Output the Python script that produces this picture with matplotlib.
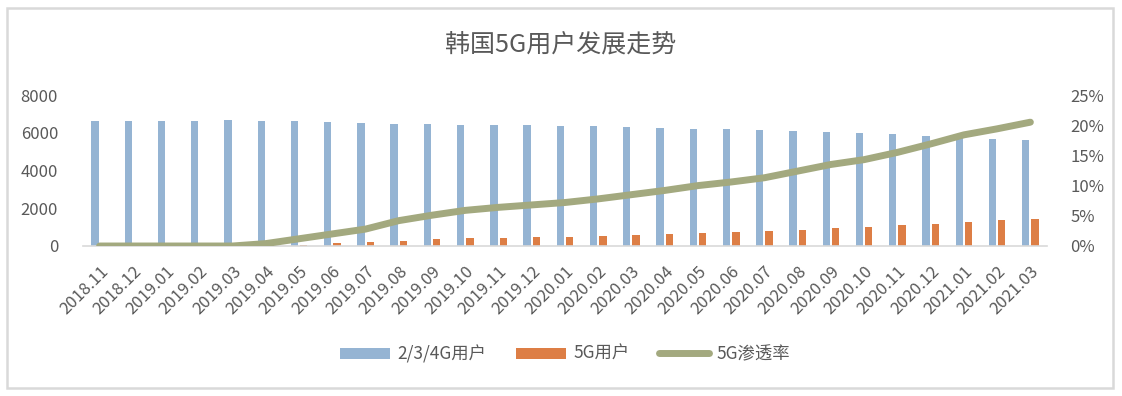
import numpy as np
import matplotlib.pyplot as plt
from matplotlib.lines import Line2D
from matplotlib.patches import Patch, Rectangle

plt.rcParams['font.family'] = ['Noto Sans CJK SC', 'DejaVu Sans']

months = ['2018.11', '2018.12', '2019.01', '2019.02', '2019.03', '2019.04', '2019.05',
          '2019.06', '2019.07', '2019.08', '2019.09', '2019.10', '2019.11', '2019.12',
          '2020.01', '2020.02', '2020.03', '2020.04', '2020.05', '2020.06', '2020.07',
          '2020.08', '2020.09', '2020.10', '2020.11', '2020.12', '2021.01', '2021.02',
          '2021.03']
# 2/3/4G用户 (万)
users_234g = [6620, 6620, 6620, 6620, 6680, 6620, 6620, 6570, 6520, 6460, 6460, 6410,
              6410, 6410, 6360, 6360, 6300, 6250, 6200, 6200, 6150, 6090, 6040, 5990,
              5930, 5830, 5700, 5670, 5620]
# 5G用户 (万)
users_5g = [0, 0, 0, 0, 0, 27, 78, 134, 187, 280, 347, 399, 436, 467, 496, 536, 588,
            634, 688, 737, 786, 865, 945, 999, 1091, 1185, 1287, 1366, 1448]
# 5G渗透率 (%)
rate_5g = [0, 0, 0, 0, 0, 0.4, 1.2, 2.0, 2.8, 4.2, 5.1, 5.9, 6.4, 6.8, 7.2, 7.8, 8.5,
           9.2, 10.0, 10.6, 11.3, 12.4, 13.5, 14.3, 15.5, 16.9, 18.4, 19.4, 20.5]

blue = '#95b4d3'
orange = '#dd7e45'
green = '#a3a97f'
grey = '#595959'

W, H = 1122, 396
fig = plt.figure(figsize=(W / 100, H / 100), dpi=100)

# outer border
fig.patches.append(Rectangle((7 / W, 1 - 388 / H), (1113 - 7) / W, (388 - 8) / H,
                             transform=fig.transFigure, fill=False,
                             edgecolor='#d9d9d9', linewidth=1.8))

ax = fig.add_axes([83 / W, 1 - 246 / H, (1047 - 83) / W, (246 - 95) / H])
ax.set_facecolor('none')
x = np.arange(len(months))
w = 0.22
ax.bar(x - 0.14, users_234g, width=w, color=blue, zorder=2)
ax.bar(x + 0.14, users_5g, width=w, color=orange, zorder=2)
ax.set_xlim(-0.5, len(months) - 0.5)
ax.set_ylim(0, 8000)
ax.set_yticks([0, 2000, 4000, 6000, 8000])
ax.set_xticks(x)
ax.set_xticklabels(months, rotation=45, ha='right', rotation_mode='anchor')
ax.tick_params(axis='both', length=0, colors=grey, labelsize=12)
ax.tick_params(axis='x', pad=12)
ax.tick_params(axis='y', pad=18)
for s in ['top', 'right', 'left']:
    ax.spines[s].set_visible(False)
ax.spines['bottom'].set_color('#d9d9d9')
ax.spines['bottom'].set_linewidth(1.2)

ax2 = ax.twinx()
ax2.plot(x, rate_5g, color=green, linewidth=5, solid_capstyle='round',
         solid_joinstyle='round', zorder=3)
ax2.set_ylim(0, 25)
ax2.set_yticks([0, 5, 10, 15, 20, 25])
ax2.set_yticklabels([f'{v}%' for v in [0, 5, 10, 15, 20, 25]])
ax2.tick_params(axis='y', length=0, colors=grey, labelsize=12, pad=17)
for s in ['top', 'right', 'left', 'bottom']:
    ax2.spines[s].set_visible(False)

fig.text(561 / W, 1 - 45 / H, '韩国5G用户发展走势', fontsize=18, color=grey,
         ha='center', va='center', fontweight='medium')

handles = [Patch(facecolor=blue), Patch(facecolor=orange),
           Line2D([0], [0], color=green, linewidth=5, solid_capstyle='round')]
fig.legend(handles, ['2/3/4G用户', '5G用户', '5G渗透率'], loc='center',
           bbox_to_anchor=(565 / W, 1 - 354 / H), ncol=3, frameon=False,
           fontsize=12.5, labelcolor=grey, handlelength=2.9, handleheight=0.6,
           columnspacing=1.7, handletextpad=0.4)

fig.savefig('out.png', dpi=100)
